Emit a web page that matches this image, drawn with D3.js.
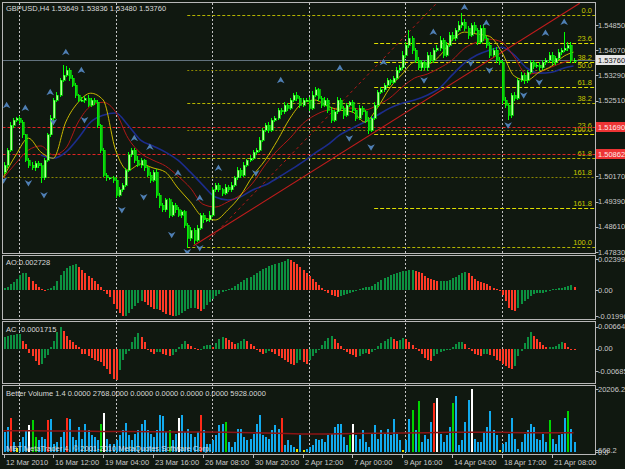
<!DOCTYPE html>
<html>
<head>
<meta charset="utf-8">
<script src="https://cdn.jsdelivr.net/npm/d3@7"></script>
<style>
  body { margin: 0; background: #101810; }
  svg { display: block; }
  text { font-family: "Liberation Sans", Arial, sans-serif; font-size: 7.5px; }
</style>
</head>
<body>
<div id="chart"></div>
<script>
/**********************/
/******* data         */
/**********************/

// GBPUSD H4 closes, in pips (1/10000)
const firstOpen = 15030;
const closes = [
  15052,15098,15175,15191,15197,15185,15145,15067,15052,15043,
  15058,15049,15012,15067,15145,15197,15253,15268,15314,15330,
  15345,15321,15299,15268,15253,15253,15259,15237,15253,15246,
  15175,15098,15021,15012,15012,15005,14959,14975,14990,15036,
  15083,15098,15067,15052,15067,15043,15021,15005,15030,14959,
  14928,14913,14944,14897,14928,14913,14897,14907,14866,14826,
  14851,14820,14857,14897,14882,14882,14897,14975,14990,14975,
  14965,14984,14975,14990,15012,15036,15021,15052,15067,15073,
  15092,15098,15129,15160,15175,15160,15191,15197,15222,15216,
  15237,15228,15253,15268,15259,15237,15253,15253,15228,15268,
  15284,15259,15237,15253,15222,15191,15216,15253,15228,15206,
  15237,15246,15222,15197,15228,15216,15191,15160,15197,15237,
  15277,15284,15299,15314,15308,15321,15345,15352,15392,15423,
  15444,15407,15376,15352,15370,15352,15392,15376,15407,15413,
  15438,15392,15423,15454,15444,15469,15484,15494,15475,15454,
  15484,15469,15432,15475,15444,15423,15392,15407,15376,15370,
  15253,15237,15206,15268,15259,15314,15330,15314,15339,15370,
  15358,15361,15352,15370,15376,15392,15370,15382,15401,15407,
  15413,15423,15376,15376
];
// wick lengths above / below the body, pips
const hiWick = [
  8,6,10,6,5,8,6,4,6,8, 5,6,10,8,6,9,7,10,8,31, 12,6,8,7,5,9,6,8,5,6,
  7,5,8,6,4,7,6,9,5,8, 10,7,6,12,6,5,7,8,6,9, 6,8,5,7,10,6,8,5,7,6,
  9,5,8,6,7,5,12,8,6,7, 5,8,6,9,7,10,6,8,5,9, 7,6,10,8,6,9,5,8,7,6,
  9,7,6,8,10,6,7,5,8,12, 9,6,7,8,5,9,6,10,7,6, 8,5,7,6,9,7,5,8,6,10,
  7,9,6,8,5,7,10,8,12,9, 25,8,6,9,7,5,10,8,6,9, 12,7,9,10,8,6,12,27,9,7,
  8,10,6,9,12,7,8,6,9,10, 7,9,6,8,10,6,9,8,7,6, 8,5,9,7,6,10,8,7,9,8,
  50,9,8,6
];
const loWick = [
  7,9,6,8,5,6,9,7,8,6, 8,5,16,7,6,5,8,6,7,5, 6,8,7,9,6,5,8,6,7,9,
  8,10,7,9,6,8,10,7,6,5, 6,7,9,6,8,10,7,9,6,8, 10,7,6,9,7,8,6,10,9,31,
  8,12,7,6,9,7,5,6,8,7, 9,6,8,5,7,6,9,5,7,6, 6,8,5,7,6,9,6,7,5,8,
  6,9,7,5,8,10,6,7,9,6, 7,8,9,6,10,8,7,6,9,12, 7,6,8,10,7,9,8,12,7,6,
  8,6,7,5,9,6,7,8,6,10, 9,12,8,7,10,6,8,9,7,6, 8,10,7,6,9,7,6,8,10,12,
  7,9,8,6,7,10,8,7,9,8, 12,10,15,8,9,7,6,10,8,7, 9,7,8,6,9,7,10,8,6,9,
  7,8,10,9
];

// moving averages read every 4 bars (last point = last bar), pips
const maYellow = [15015,15083,15135,15092,15073,15185,15246,15274,15253,15098,
  15036,15055,15043,15030,14981,14938,14891,14882,14913,14956,
  15018,15067,15129,15197,15243,15253,15234,15222,15216,15185,
  15228,15290,15333,15370,15364,15389,15438,15463,15457,15450,
  15401,15327,15314,15339,15358,15389,15401];
const maRed = [15012,15058,15098,15111,15083,15104,15185,15234,15246,15216,
  15135,15089,15067,15049,15018,14981,14931,14922,14938,14959,
  14996,15052,15098,15135,15179,15206,15222,15228,15228,15222,
  15237,15259,15293,15321,15333,15352,15376,15413,15432,15441,
  15432,15386,15333,15339,15355,15370,15376];
const maNavy = [null,null,null,15083,15073,15092,15135,15185,15206,15213,
  15175,15129,15111,15092,15067,15030,14990,14953,14944,14953,
  14975,14990,15012,15036,15061,15089,15114,15145,15166,15185,
  15206,15228,15243,15253,15268,15290,15330,15367,15392,15407,
  15416,15392,15352,15336,15339,15352,15358];
const maStep = 4;

// fractal markers: bar index and price
const upBars   = [1,7,15,20,25,42,47,56,63,69,89,108,122,138,148,155,174,180];
const upPrices = [15237,15228,15277,15401,15345,15135,15108,15027,14950,15043,15314,15352,15370,15463,15540,15491,15460,15494];
const dnBars   = [0,8,13,16,26,38,45,54,59,63,81,111,118,135,150,156,162,167,172];
const dnPrices = [15005,14996,14959,15185,15191,14913,14953,14836,14783,14795,15027,15135,15107,15314,15367,15345,15175,15268,15308];

// trend lines: [bar, price]
const trendSolid  = [[61, 1.4802], [185, 1.5552]];
const trendDashed = [[66, 1.4820], [140, 1.5562]];

// fibonacci levels
const fibPrice = [1.5515,1.5429,1.5370,1.5345,1.5293,1.5243,1.5160,1.5148,1.5073,1.5015,1.4919,1.4798];
const fibLabel = ["0.0","23.6","38.2","50.0","61.8","38.2","23.6","100.0","61.8","161.8","161.8","100.0"];
const fibFrom  = [59,119,119,59,119,59,59,119,59,0,119,59];
const fibKind  = ["a","b","b","c","b","a","c","b","a","c","b","a"];

const redLevels = [1.51690, 1.50862];
const bid = 1.53760;
const priceTicks = [1.5485,1.5407,1.5329,1.5251,1.5173,1.5095,1.5017,1.4939,1.4861,1.4783];

// Awesome Oscillator, x1e-4
const ao = [
  15,23,46,62,85,116,131,131,100,69, 46,23,8,-8,8,15,31,69,116,146,
  169,185,193,200,177,154,131,108,92,69, 46,23,-8,-31,-54,-108,-146,-177,-200,-200,
  -177,-146,-123,-100,-85,-92,-116,-131,-146,-146, -154,-169,-185,-193,-199,-196,-193,-177,-162,-146,
  -139,-139,-146,-162,-146,-116,
  -92,-69,-46,-31,-15,-8,8,15,31,46, 62,77,92,100,116,131,146,162,169,185,
  193,200,208,216,223,240,231,216,200,177, 154,131,108,85,62,39,15,-8,-23,-39,
  -46,-54,-46,-39,-31,-23,-15,-8,8,15, 23,23,31,46,62,77,92,100,116,123,
  131,139,146,146,154,154,146,139,131,108, 92,85,77,69,69,69,69,77,92,100,
  116,131,139,131,108,85,69,62,54,46, 31,15,8,-8,-39,-85,-139,-154,-162,-139,
  -108,-85,-69,-46,-31,-23,-23,-23,-15,-8, 8,8,15,15,23,31,39,27
];
// Accelerator Oscillator, x1e-4
const ac = [
  36,39,42,42,45,45,24,15,-12,-24, -39,-51,-48,-30,-21,6,24,51,66,54,
  39,27,21,12,6,-15,-18,-24,-30,-36, -39,-42,-54,-63,-78,-93,-96,-66,-36,-15,
  -6,21,36,48,36,21,0,-9,-15,-9, -9,-15,-21,-24,-21,-9,6,15,24,15,
  9,3,-3,0,9,12,
  12,6,18,30,36,33,27,21,15,18, 24,30,24,15,9,0,-9,-18,-12,-6,
  -9,-15,-24,-30,-36,-42,-48,-51,-45,-36, -42,-48,-36,-24,-12,0,12,24,33,39,
  30,18,9,0,-9,-15,-21,-27,-24,-18, -12,-18,-9,0,9,18,24,30,36,30,
  24,27,33,30,21,12,3,-6,
  -15,-30,-36,-39,-24,-15,-9,-6,-3,0, 6,15,21,21,15,3,-6,-15,-21,-24,
  -18,-15,-21,-24,-36,-39,-48,-54,-60,-63, -54,-24,-6,18,36,51,39,30,21,12,
  6,6,6,9,15,21,18,6,0,-2
];

// Better Volume
const volume = [
  6320,7900,11060,3160,1260,3160,4740,6950,8530,10110, 4740,3790,4740,4110,10110,10430,2530,3160,4740,6320,
  11060,10740,4740,3790,7900,4110,8850,6950,5370,4740, 3790,8850,12640,4110,2530,2530,3790,5370,6950,9160,
  5370,3790,5690,6950,8850,10110,6950,5690,4740,6950, 12010,11690,6320,6950,3790,5690,11060,12010,6320,7270,
  5690,4740,6320,12010,6950,2530,2530,3790,5370,8530, 8850,9480,3160,1580,3160,7270,7270,4740,3790,4110,
  5690,8850,12010,5370,4740,4110,6950,8530,7270,11060, 2210,3790,2210,1580,950,5370,630,950,1580,2210,
  4110,3790,4110,3160,5370,5690,7900,8850,8850,4740, 2210,5370,8850,5370,4110,6950,3160,1580,5690,8530,
  4110,6950,5690,7270,5370,10430,5690,3790,630,3790, 10430,13590,6950,16430,3160,5370,4110,9480,15800,17380,
  5690,3160,5370,7900,15800,18010,2210,3790,9480,16750, 20206,4110,3160,3160,6320,7900,13270,6950,5370,630,
  2530,3160,5690,11060,4110,950,3160,5690,6950,8850, 7900,4110,3790,5690,3160,10110,4110,2530,5370,5690,
  11060,13270,7270,3160
];
const volType = ("bbrbybbbwg" + "gbbbrbbbbb" + "rbbbbbbbbb" + "bgwbbbbbbb" + "bbbbbbbbbb" +
  "bbbgbbwbbb" + "bbbrbbbbbb" + "bgbbbbbbbb" + "bbbbbbbbbr" + "bbbbybybbb" +
  "bbbbbbbbbb" + "bgwbbbbbbb" + "bbbbbbbbyb" + "bgbgbbbbrw" + "bbbbgbbbbb" +
  "wbbbbbbbby" + "bbbbbbbbbb" + "bbbbbgbbbb" + "bgbb").split("");
const volAvg = [6800,6800,6700,6700,6600,6600,6500,6400,6400,6300,6200,6000,
  5800,5800,5900,6000,6100,6200,6300,6300,6300,6200,6200,6200];
const volAvgStep = 8;

const timeBars = [0,16,32,48,64,80,96,112,128,144,160,176];
const timeLabels = ["12 Mar 2010","16 Mar 12:00","19 Mar 04:00","23 Mar 16:00","26 Mar 08:00","30 Mar 20:00",
  "2 Apr 12:00","7 Apr 00:00","9 Apr 16:00","14 Apr 04:00","18 Apr 17:00","21 Apr 08:00"];
const weekBars = [5,36,67,98,129,160];

/**********************/
/******* d3           */
/**********************/

const width = 625, height = 469;
const N = closes.length;
const left = 2.5, right = 595.5;

const svg = d3.select("#chart").append("svg")
    .attr("width", width)
    .attr("height", height);

svg.append("rect").attr("width", width).attr("height", height).attr("fill", "#101810");

const x = d3.scaleLinear().domain([0, N - 1]).range([3.5, 573.5]);
const yP = d3.scaleLinear().domain([1.4783, 1.5553]).range([252, 3]);
const yAO = d3.scaleLinear().domain([-0.0215, 0.0255]).range([318, 257]);
const yAC = d3.scaleLinear().domain([-0.0098, 0.0068]).range([381, 326]);
const yV = d3.scaleLinear().domain([0, 20206.2]).range([452, 389]);

const panels = [
    {id: "main", y0: 2.5, y1: 253.5},
    {id: "ao", y0: 255.5, y1: 319.5},
    {id: "ac", y0: 321.5, y1: 383.5},
    {id: "vol", y0: 385.5, y1: 454.5}
];

const defs = svg.append("defs");
panels.forEach(p => {
    defs.append("clipPath").attr("id", "clip-" + p.id)
        .append("rect").attr("x", left).attr("y", p.y0).attr("width", right - left).attr("height", p.y1 - p.y0);
});

const px = i => Math.round(x(i));

// week grid through all panels
svg.append("g").selectAll("line")
    .data(weekBars)
    .enter().append("line")
    .attr("x1", d => px(d) + 0.5).attr("x2", d => px(d) + 0.5)
    .attr("y1", 3).attr("y2", 454)
    .attr("stroke", "#c4c4c4")
    .attr("stroke-dasharray", "2,2");

/******* main panel */
const main = svg.append("g").attr("clip-path", "url(#clip-main)");

const fibStyle = {
    a: {color: "#b4b400", dash: "3,2"},
    b: {color: "#dede00", dash: "4,2"},
    c: {color: "#8a8600", dash: "2,2"}
};
fibPrice.forEach((p, k) => {
    const s = fibStyle[fibKind[k]];
    main.append("line")
        .attr("x1", x(fibFrom[k])).attr("x2", right)
        .attr("y1", Math.round(yP(p)) + 0.5).attr("y2", Math.round(yP(p)) + 0.5)
        .attr("stroke", s.color)
        .attr("stroke-dasharray", s.dash);
    main.append("text")
        .attr("x", 592).attr("y", Math.round(yP(p)) - 2)
        .attr("text-anchor", "end")
        .attr("fill", "#c8c800")
        .text(fibLabel[k]);
});

redLevels.forEach(p => {
    main.append("line")
        .attr("x1", left).attr("x2", right)
        .attr("y1", Math.round(yP(p)) + 0.5).attr("y2", Math.round(yP(p)) + 0.5)
        .attr("stroke", "#e02424")
        .attr("stroke-dasharray", "3,2");
});

main.append("line")
    .attr("x1", left).attr("x2", right)
    .attr("y1", Math.round(yP(bid)) + 0.5).attr("y2", Math.round(yP(bid)) + 0.5)
    .attr("stroke", "#62727e");

// moving averages
function maLine(vals, color, w) {
    const pts = vals.map((v, k) => [Math.min(k * maStep, N - 1), v]);
    main.append("path")
        .datum(pts)
        .attr("fill", "none")
        .attr("stroke", color)
        .attr("stroke-width", w)
        .attr("d", d3.line()
            .defined(d => d[1] != null)
            .x(d => x(d[0]))
            .y(d => yP(d[1] / 1e4))
            .curve(d3.curveMonotoneX));
}
maLine(maNavy, "#1c2c8c", 1.6);
maLine(maRed, "#b01818", 1);
maLine(maYellow, "#c8b800", 1);

// trend lines
main.append("line")
    .attr("x1", x(trendSolid[0][0])).attr("y1", yP(trendSolid[0][1]))
    .attr("x2", x(trendSolid[1][0])).attr("y2", yP(trendSolid[1][1]))
    .attr("stroke", "#c01c1c").attr("stroke-width", 1.2);
main.append("line")
    .attr("x1", x(trendDashed[0][0])).attr("y1", yP(trendDashed[0][1]))
    .attr("x2", x(trendDashed[1][0])).attr("y2", yP(trendDashed[1][1]))
    .attr("stroke", "#b01818").attr("stroke-dasharray", "3,3");

// candles
const bars = closes.map((c, i) => {
    const o = i === 0 ? firstOpen : closes[i - 1];
    return {
        i: i,
        o: o / 1e4,
        c: c / 1e4,
        h: (Math.max(o, c) + hiWick[i]) / 1e4,
        l: (Math.min(o, c) - loWick[i]) / 1e4
    };
});

const candle = main.append("g").attr("shape-rendering", "crispEdges")
    .selectAll("g")
    .data(bars)
    .enter().append("g");

candle.append("line")
    .attr("x1", d => px(d.i) + 0.5).attr("x2", d => px(d.i) + 0.5)
    .attr("y1", d => yP(d.h)).attr("y2", d => yP(d.l))
    .attr("stroke", "#00ff00");

candle.append("rect")
    .attr("x", d => px(d.i))
    .attr("width", 2)
    .attr("y", d => yP(Math.max(d.o, d.c)))
    .attr("height", d => Math.max(1, Math.abs(yP(d.o) - yP(d.c))))
    .attr("fill", d => d.c >= d.o ? "#b4ff96" : "#10c810")
    .attr("stroke", "#00ff00")
    .attr("stroke-width", 0.6);

// fractal markers
const arrowUp = "M0,-3.5L3.8,3L0,1.2L-3.8,3Z";
const arrowDn = "M0,3.5L3.8,-3L0,-1.2L-3.8,-3Z";
main.append("g").selectAll("path")
    .data(upBars.map((b, k) => [b, upPrices[k]]))
    .enter().append("path")
    .attr("d", arrowUp)
    .attr("transform", d => `translate(${x(d[0])},${yP(d[1] / 1e4)})`)
    .attr("fill", "#4f7fb4");
main.append("g").selectAll("path")
    .data(dnBars.map((b, k) => [b, dnPrices[k]]))
    .enter().append("path")
    .attr("d", arrowDn)
    .attr("transform", d => `translate(${x(d[0])},${yP(d[1] / 1e4)})`)
    .attr("fill", "#4f7fb4");

/******* oscillators */
function oscBars(id, vals, scale) {
    const g = svg.append("g").attr("clip-path", `url(#clip-${id})`).attr("shape-rendering", "crispEdges");
    g.selectAll("rect")
        .data(vals)
        .enter().append("rect")
        .attr("x", (d, i) => px(i))
        .attr("width", 2)
        .attr("y", d => Math.min(scale(d / 1e4), scale(0)))
        .attr("height", d => Math.max(1, Math.abs(scale(d / 1e4) - scale(0))))
        .attr("fill", (d, i) => (i > 0 && d < vals[i - 1]) ? "#ff3a26" : "#0c9040");
}
oscBars("ao", ao, yAO);
oscBars("ac", ac, yAC);

/******* volume */
const volColor = {b: "#12aaee", r: "#ff2a18", w: "#ffffff", g: "#00d400", y: "#e8e800"};
const volG = svg.append("g").attr("clip-path", "url(#clip-vol)");
volG.append("g").attr("shape-rendering", "crispEdges")
    .selectAll("rect")
    .data(volume)
    .enter().append("rect")
    .attr("x", (d, i) => px(i))
    .attr("width", 2)
    .attr("y", d => yV(d))
    .attr("height", d => yV(0) - yV(d))
    .attr("fill", (d, i) => volColor[volType[i]]);

volG.append("path")
    .datum(volAvg.map((v, k) => [Math.min(k * volAvgStep, N - 1), v]))
    .attr("fill", "none")
    .attr("stroke", "#8c1414")
    .attr("stroke-width", 1.5)
    .attr("d", d3.line().x(d => x(d[0])).y(d => yV(d[1])));

/******* frames & axes */
panels.forEach(p => {
    svg.append("rect")
        .attr("x", left).attr("y", p.y0)
        .attr("width", right - left).attr("height", p.y1 - p.y0)
        .attr("fill", "none")
        .attr("stroke", "#b8b8b8");
});

const axisG = svg.append("g").attr("fill", "#cacaca");
function axisLabel(yv, txt) {
    svg.append("line")
        .attr("x1", right).attr("x2", right + 3)
        .attr("y1", Math.round(yv) + 0.5).attr("y2", Math.round(yv) + 0.5)
        .attr("stroke", "#b8b8b8");
    axisG.append("text")
        .attr("x", 598).attr("y", yv).attr("dy", "0.35em")
        .text(txt);
}
priceTicks.forEach(p => axisLabel(yP(p), p.toFixed(5)));
[0.023992, 0].forEach(v => axisLabel(yAO(v), v === 0 ? "0.00" : "0.023992"));
axisLabel(yAO(-0.01996), "-0.01996");
axisLabel(yAC(0.006649), "0.006649");
axisLabel(yAC(0), "0.00");
axisLabel(yAC(-0.00685), "-0.00685");
axisLabel(yV(20206.2), "20206.2");
axisLabel(yV(0), "0.0");
axisLabel(yV(668.2), "668.2");

// highlighted price labels
function tagLabel(p, bg, fg) {
    const yy = Math.round(yP(p));
    svg.append("rect")
        .attr("x", 596).attr("y", yy - 5).attr("width", 29).attr("height", 10)
        .attr("fill", bg);
    svg.append("text")
        .attr("x", 598).attr("y", yy).attr("dy", "0.35em")
        .attr("fill", fg)
        .text(p.toFixed(5));
}
redLevels.forEach(p => tagLabel(p, "#ee3434", "#ffe8e8"));
tagLabel(bid, "#e6e6e6", "#101010");

// time axis
timeBars.forEach((b, k) => {
    svg.append("line")
        .attr("x1", px(b) + 0.5).attr("x2", px(b) + 0.5)
        .attr("y1", 455).attr("y2", 458)
        .attr("stroke", "#b8b8b8");
    svg.append("text")
        .attr("x", px(b) + 2).attr("y", 465)
        .attr("fill", "#cacaca")
        .text(timeLabels[k]);
});

// panel captions
const captions = [
    [11, "GBPUSD,H4  1.53649 1.53836 1.53480 1.53760"],
    [265, "AO:0.002728"],
    [332, "AC -0.0001715"],
    [396, "Better Volume 1.4 0.0000 2768.0000 0.0000 0.0000 0.0000 0.0000 5928.0000"],
    [451, "MBT MetaTrader 4, \u00a9 2001-2010 MetaQuotes Software Corp."]
];
svg.append("g").selectAll("text")
    .data(captions)
    .enter().append("text")
    .attr("x", 6).attr("y", d => d[0])
    .attr("fill", "#d8d8d8")
    .text(d => d[1]);
</script>
</body>
</html>
